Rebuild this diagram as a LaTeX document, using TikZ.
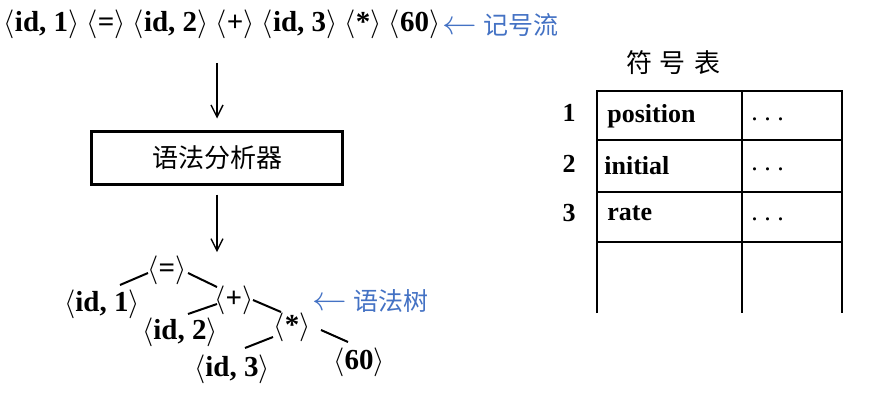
\documentclass[tikz,border=0pt]{standalone}
\usepackage{fontspec}
\setmainfont{Liberation Serif}
\newfontfamily\cjk{Noto Sans CJK SC}
\usetikzlibrary{arrows.meta}
\definecolor{noteblue}{RGB}{68,114,196}
\newcommand{\tok}[1]{$\bigl\langle$#1$\bigr\rangle$}

\begin{document}
\begin{tikzpicture}[x=0.5pt,y=-0.5pt,
    token/.style={font=\fontsize{14.5}{16}\selectfont\bfseries,inner sep=0pt},
    cell/.style={font=\fontsize{13}{15}\selectfont\bfseries,inner sep=0pt},
    note/.style={font=\fontsize{12.5}{15}\selectfont,text=noteblue,inner sep=0pt,anchor=west},
    flow/.style={line width=0.7pt,-{Straight Barb[length=6pt,width=6pt,line width=0.7pt]}},
    branch/.style={line width=1pt},
    grid/.style={line width=0.8pt}]

  \useasboundingbox (0,0) rectangle (872,412);

  % --- the token stream ---
  \node[token] (stream) at (222,24)
    {\tok{id, 1} \tok{=} \tok{id, 2} \tok{+} \tok{id, 3} \tok{*} \tok{60}};
  \node[note] (streamnote) at (442,25) {{\fontsize{16.5}{16}\selectfont$\leftarrow$} \cjk 记号流};

  % --- the parser box ---
  \node[draw,line width=1.5pt,minimum width=125.5pt,minimum height=26.5pt,
        font=\fontsize{13}{15}\selectfont\cjk] (parser) at (217,157.5) {语法分析器};

  % --- the syntax tree ---
  \node[token] (eq)   at (167,270) {\tok{=}};
  \node[token] (id1)  at (102,304) {\tok{id, 1}};
  \node[token] (plus) at (234,300) {\tok{+}};
  \node[token] (id2)  at (180,332) {\tok{id, 2}};
  \node[token] (star) at (292,327) {\tok{*}};
  \node[token] (id3)  at (232,369) {\tok{id, 3}};
  \node[token] (num)  at (359,362) {\tok{60}};
  \node[note] (treenote) at (312,301) {{\fontsize{16.5}{16}\selectfont$\leftarrow$} \cjk 语法树};

  \draw[branch] ([shift={(-19,3)}]eq.center)   -- ([shift={(18,-19)}]id1.center);
  \draw[branch] ([shift={(21,3)}]eq.center)    -- ([shift={(-17,-13)}]plus.center);
  \draw[branch] ([shift={(-17,4)}]plus.center) -- ([shift={(8,-18)}]id2.center);
  \draw[branch] ([shift={(19,0)}]plus.center)  -- ([shift={(-11,-15)}]star.center);
  \draw[branch] ([shift={(-19,10)}]star.center) -- ([shift={(13,-21)}]id3.center);
  \draw[branch] ([shift={(29,3)}]star.center)  -- ([shift={(-11,-20)}]num.center);

  % --- arrows: stream -> parser -> tree ---
  \draw[flow,shorten <=12pt,shorten >=5.5pt] (parser.north |- stream.south) -- (parser.north);
  \draw[flow,shorten <=4.5pt,shorten >=1.5pt]  (parser.south) -- (parser.south |- eq.north);

  % --- the symbol table ---
  \node[font=\fontsize{13}{15}\selectfont\cjk,inner sep=0pt] (tabtitle) at (673,63)
    {符\hspace{4pt}号\hspace{4pt}表};
  \draw[grid] (597,313) -- (597,91) -- (842,91) -- (842,313);
  \draw[grid] (742,91) -- (742,313);
  \draw[grid] (597,140) -- (842,140);
  \draw[grid] (597,192) -- (842,192);
  \draw[grid] (597,242) -- (842,242);

  \node[cell,anchor=base] (row1) at (569,121) {1};
  \node[cell,anchor=base] (row2) at (569,172) {2};
  \node[cell,anchor=base] (row3) at (569,221) {3};
  \node[cell,anchor=base west] (name1) at (607,122) {position};
  \node[cell,anchor=base west] (name2) at (604,174) {initial};
  \node[cell,anchor=base west] (name3) at (607,220) {rate};
  \node[cell,font=\fontsize{13}{15}\selectfont,anchor=base west] (attr1) at (751,120) {.\ .\ .};
  \node[cell,font=\fontsize{13}{15}\selectfont,anchor=base west] (attr2) at (751,170) {.\ .\ .};
  \node[cell,font=\fontsize{13}{15}\selectfont,anchor=base west] (attr3) at (751,220) {.\ .\ .};
\end{tikzpicture}
\end{document}
